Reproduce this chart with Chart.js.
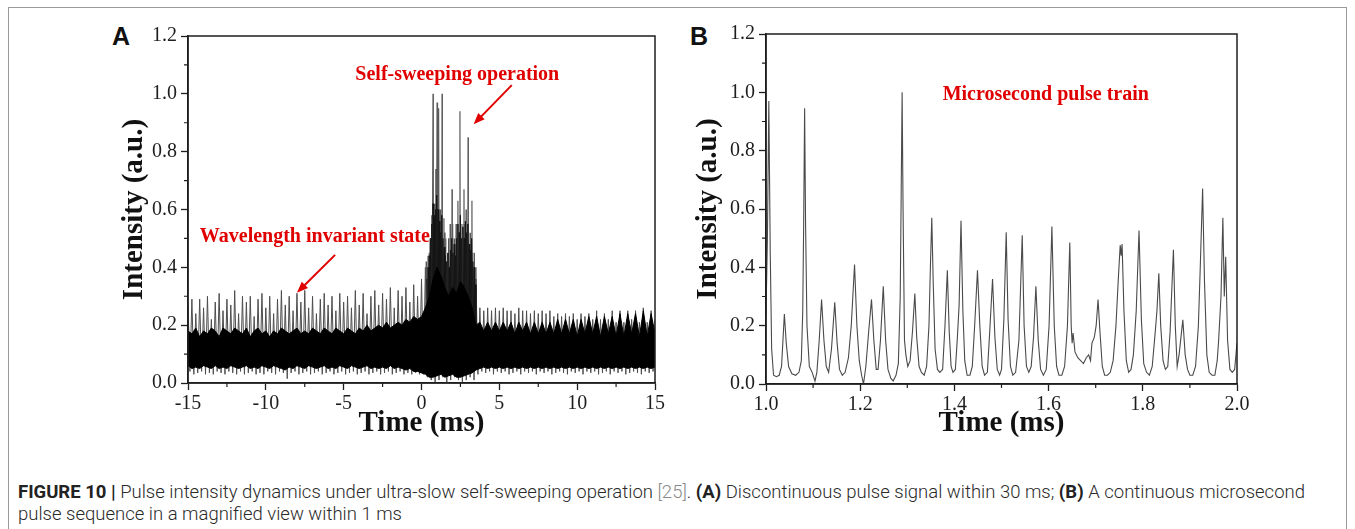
<!DOCTYPE html>
<html>
<head>
<meta charset="utf-8">
<script src="https://cdn.jsdelivr.net/npm/chart.js@4.4.0/dist/chart.umd.min.js"></script>
<style>
  html, body { margin: 0; padding: 0; background: #fff; }
  body { width: 1355px; height: 529px; position: relative; overflow: hidden; }
  .frame { position: absolute; left: 8px; top: 7px; width: 1337px; height: 560px; border: 1px solid #9a9a9a; }
  canvas { position: absolute; }
  #chartA { left: 100px; top: 20px; }
  #chartB { left: 680px; top: 18px; }
  .tag { position: absolute; top: 24px; font: bold 25px "Liberation Sans", Arial, sans-serif; line-height: 25px; color: #111; }
  .caption { position: absolute; left: 18px; top: 481px; font-family: Roboto, "Liberation Sans", sans-serif; font-weight: 300;
             font-size: 18.5px; line-height: 22px; color: #2a2a2a; white-space: nowrap; }
  .caption b { color: #222; font-weight: 700; }
  .caption .ref { color: #8a8a8a; }
</style>
</head>
<body>
<div class="frame"></div>
<div class="tag" style="left:112px">A</div>
<div class="tag" style="left:690px">B</div>
<canvas id="chartA" width="580" height="430"></canvas>
<canvas id="chartB" width="580" height="432"></canvas>
<div class="caption">
  <div><b>FIGURE 10</b> <b>|</b> Pulse intensity dynamics under ultra-slow self-sweeping operation <span class="ref">[25]</span>. <b>(A)</b> Discontinuous pulse signal within 30 ms; <b>(B)</b> A continuous microsecond</div>
  <div>pulse sequence in a magnified view within 1 ms</div>
</div>
<script>
// ---- panel A: 30 ms scope record, one sample every 0.25 ms from -15 ms ----
const aStart = -15;
const aStep = 0.25;
// grey spike tops
const aPeak = [
  0.27, 0.29, 0.24, 0.29, 0.26, 0.30, 0.22, 0.28, 0.31, 0.25,
  0.29, 0.27, 0.32, 0.24, 0.30, 0.28, 0.30, 0.23, 0.29, 0.31,
  0.26, 0.30, 0.24, 0.29, 0.32, 0.27, 0.30, 0.25, 0.31, 0.28,
  0.32, 0.26, 0.30, 0.24, 0.29, 0.31, 0.27, 0.30, 0.25, 0.31,
  0.28, 0.30, 0.26, 0.32, 0.27, 0.31, 0.24, 0.30, 0.32, 0.27,
  0.31, 0.29, 0.33, 0.26, 0.32, 0.30, 0.33, 0.28, 0.34, 0.30,
  0.36,
  0.40, 0.45, 0.55, 0.60, 0.58, 0.52, 0.50, 0.55, 0.52, 0.58, 0.55, 0.50, 0.45, 0.36,
  0.26, 0.25, 0.26, 0.25, 0.26, 0.25,
  0.26, 0.25, 0.25, 0.24, 0.26, 0.25,
  0.25, 0.24, 0.25, 0.24, 0.25, 0.24, 0.25, 0.23,
  0.24, 0.23, 0.24, 0.23, 0.24, 0.22, 0.24, 0.23,
  0.24, 0.22, 0.25, 0.22, 0.24, 0.22, 0.25, 0.21,
  0.25, 0.21, 0.25, 0.22, 0.25, 0.21, 0.26, 0.21, 0.25, 0.22
];
// grey fringe under the dense part
const aDip = [
  0.04, 0.03, 0.035, 0.04, 0.03, 0.035, 0.03, 0.04, 0.035, 0.03,
  0.04, 0.035, 0.03, 0.04, 0.03, 0.035, 0.04, 0.03, 0.035, 0.03,
  0.04, 0.035, 0.03, 0.04, 0.035, 0.015, 0.035, 0.04, 0.03, 0.035,
  0.04, 0.03, 0.035, 0.04, 0.03, 0.035, 0.04, 0.03, 0.035, 0.04,
  0.03, 0.035, 0.04, 0.03, 0.035, 0.04, 0.03, 0.035, 0.04, 0.03,
  0.035, 0.04, 0.03, 0.035, 0.04, 0.03, 0.035, 0.03, 0.035, 0.03,
  0.03,
  0.02, 0.01, 0.0, 0.01, 0.02, 0.0, 0.01, 0.02, 0.01, 0.0, 0.01, 0.02, 0.01, 0.03,
  0.04, 0.035, 0.04, 0.03, 0.04, 0.035,
  0.04, 0.03, 0.035, 0.04, 0.03, 0.04,
  0.035, 0.04, 0.03, 0.04, 0.035, 0.04, 0.03, 0.035,
  0.04, 0.035, 0.03, 0.04, 0.035, 0.04, 0.03, 0.04,
  0.035, 0.04, 0.03, 0.035, 0.04, 0.03, 0.04, 0.035,
  0.04, 0.03, 0.035, 0.04, 0.035, 0.03, 0.04, 0.035, 0.04, 0.03
];
// solid black band, upper and lower edge
const aBandHi = [
  0.18, 0.17, 0.19, 0.16, 0.18, 0.17, 0.19, 0.18, 0.16, 0.19,
  0.18, 0.17, 0.19, 0.18, 0.17, 0.19, 0.16, 0.18, 0.19, 0.17,
  0.18, 0.16, 0.18, 0.17, 0.19, 0.18, 0.17, 0.18, 0.19, 0.17,
  0.18, 0.17, 0.19, 0.18, 0.17, 0.19, 0.18, 0.17, 0.19, 0.18,
  0.17, 0.19, 0.18, 0.17, 0.19, 0.18, 0.20, 0.18, 0.19, 0.20,
  0.19, 0.21, 0.19, 0.20, 0.21, 0.20, 0.22, 0.21, 0.23, 0.22,
  0.23,
  0.26, 0.30, 0.36, 0.40, 0.37, 0.33, 0.30, 0.33, 0.31, 0.35, 0.33, 0.30, 0.26, 0.20,
  0.21, 0.18, 0.21, 0.18, 0.21, 0.18,
  0.21, 0.18, 0.21, 0.17, 0.21, 0.18,
  0.21, 0.17, 0.21, 0.17, 0.21, 0.17, 0.21, 0.17,
  0.22, 0.17, 0.22, 0.17, 0.22, 0.16, 0.22, 0.17,
  0.23, 0.17, 0.23, 0.16, 0.23, 0.17, 0.23, 0.16,
  0.24, 0.16, 0.24, 0.17, 0.24, 0.16, 0.25, 0.16, 0.24, 0.17
];
const aBandLo = [
  0.06, 0.05, 0.055, 0.05, 0.06, 0.055, 0.05, 0.06, 0.05, 0.055,
  0.05, 0.06, 0.055, 0.05, 0.055, 0.06, 0.05, 0.055, 0.05, 0.06,
  0.055, 0.05, 0.06, 0.055, 0.05, 0.045, 0.055, 0.05, 0.06, 0.055,
  0.05, 0.06, 0.055, 0.05, 0.055, 0.06, 0.05, 0.055, 0.05, 0.06,
  0.055, 0.05, 0.06, 0.055, 0.05, 0.055, 0.06, 0.05, 0.055, 0.05,
  0.055, 0.05, 0.06, 0.05, 0.055, 0.05, 0.045, 0.05, 0.04, 0.04,
  0.035,
  0.03, 0.02, 0.02, 0.025, 0.03, 0.02, 0.025, 0.03, 0.02, 0.02, 0.025, 0.03, 0.035, 0.045,
  0.05, 0.055, 0.05, 0.055, 0.05, 0.055,
  0.05, 0.055, 0.05, 0.055, 0.05, 0.055,
  0.05, 0.055, 0.05, 0.055, 0.05, 0.055, 0.05, 0.055,
  0.05, 0.055, 0.05, 0.055, 0.05, 0.055, 0.05, 0.055,
  0.05, 0.055, 0.05, 0.055, 0.05, 0.055, 0.05, 0.055,
  0.05, 0.055, 0.05, 0.055, 0.05, 0.055, 0.05, 0.055, 0.05, 0.055
];
// dark spikes packed inside the burst, every 0.08 ms from 0.34 ms
const midStart = 0.34;
const midStep = 0.08;
const midPeak = [
  0.36, 0.40, 0.44, 0.50, 0.55, 0.62, 0.58, 0.60, 0.65, 0.60,
  0.56, 0.52, 0.58, 0.50, 0.47, 0.44, 0.42, 0.45, 0.40, 0.46,
  0.50, 0.45, 0.48, 0.44, 0.50, 0.55, 0.52, 0.58, 0.50, 0.54,
  0.50, 0.56, 0.52, 0.55, 0.48, 0.46, 0.50, 0.42, 0.40, 0.34
];
const midFoot = 0.2;
// tall spikes of the self-sweeping burst (ms, a.u.)
const burstTime = [0.30, 0.42, 0.55, 0.66, 0.74, 0.85, 0.93, 1.00, 1.06, 1.12,
                   1.20, 1.32, 1.44, 1.55, 1.68, 1.84, 1.96, 2.10, 2.22, 2.34,
                   2.47, 2.60, 2.73, 2.86, 2.99, 3.12, 3.24, 3.38, 3.50];
const burstPeak = [0.42, 0.44, 0.50, 0.58, 1.00, 0.62, 0.74, 0.97, 0.80, 0.95,
                   0.60, 1.00, 0.57, 0.50, 0.45, 0.55, 0.67, 0.50, 0.55, 0.63,
                   0.94, 0.55, 0.67, 0.60, 0.85, 0.52, 0.63, 0.45, 0.40];
const burstFoot = 0.12;

// ---- panel B: 1 ms zoom of the pulse train ----
const bTime = [
  1.000, 1.003, 1.006, 1.009, 1.012, 1.016, 1.022, 1.028,
  1.033, 1.036, 1.039, 1.043, 1.048, 1.055, 1.063, 1.070,
  1.075, 1.078, 1.080, 1.082, 1.084, 1.087, 1.092, 1.098, 1.104,
  1.108, 1.113, 1.118, 1.123, 1.128, 1.133, 1.139, 1.146, 1.151, 1.156, 1.162, 1.168,
  1.175, 1.181, 1.188, 1.193, 1.198, 1.203, 1.207,
  1.212, 1.218, 1.224, 1.229, 1.234, 1.238, 1.243, 1.249, 1.254, 1.259, 1.265, 1.270, 1.276,
  1.281, 1.285, 1.287, 1.289, 1.291, 1.294, 1.297, 1.301, 1.306, 1.311, 1.316, 1.320, 1.325, 1.330, 1.336,
  1.341, 1.346, 1.349, 1.352, 1.355, 1.359, 1.364, 1.369, 1.375, 1.380, 1.385, 1.389, 1.393, 1.397,
  1.402, 1.406, 1.410, 1.414, 1.418, 1.422, 1.427, 1.433, 1.438, 1.443, 1.449, 1.454, 1.459, 1.464,
  1.470, 1.475, 1.481, 1.486, 1.491, 1.496, 1.500, 1.505, 1.510, 1.514, 1.519, 1.524, 1.530,
  1.537, 1.544, 1.548, 1.553, 1.558, 1.563, 1.568, 1.573, 1.578, 1.583, 1.589,
  1.595, 1.601, 1.607, 1.612, 1.617, 1.622, 1.628, 1.634, 1.640, 1.645,
  1.648, 1.650, 1.652, 1.656, 1.662, 1.668, 1.674, 1.680, 1.685, 1.689,
  1.692, 1.697, 1.701, 1.705, 1.709, 1.714, 1.719, 1.725, 1.731, 1.737,
  1.743, 1.748, 1.752, 1.754, 1.756, 1.760, 1.765, 1.770,
  1.775, 1.780, 1.786, 1.792, 1.797, 1.802, 1.808, 1.814, 1.820, 1.826,
  1.830, 1.834, 1.838, 1.843, 1.848,
  1.853, 1.858, 1.865, 1.869, 1.873, 1.877, 1.881, 1.885, 1.890, 1.895, 1.900, 1.906,
  1.912, 1.918, 1.922, 1.927, 1.931, 1.936, 1.941, 1.947, 1.953, 1.958,
  1.961, 1.966, 1.970, 1.973, 1.976, 1.980, 1.985, 1.990, 1.995, 2.000
];
const bValue = [
  0.24, 0.50, 0.97, 0.45, 0.12, 0.03, 0.025, 0.03,
  0.06, 0.15, 0.24, 0.14, 0.06, 0.035, 0.03, 0.04,
  0.08, 0.25, 0.55, 0.945, 0.55, 0.20, 0.06, 0.04, 0.01,
  0.04, 0.15, 0.29, 0.15, 0.06, 0.04, 0.12, 0.28, 0.14, 0.05, 0.03, 0.04,
  0.09, 0.20, 0.41, 0.20, 0.08, 0.03, 0.0,
  0.06, 0.18, 0.29, 0.15, 0.05, 0.05, 0.15, 0.335, 0.15, 0.05, 0.02, 0.01, 0.03,
  0.07, 0.30, 0.65, 1.00, 0.60, 0.15, 0.10, 0.06, 0.08, 0.18, 0.31, 0.16, 0.06, 0.04, 0.03,
  0.06, 0.20, 0.40, 0.57, 0.35, 0.12, 0.05, 0.04, 0.05, 0.20, 0.39, 0.18, 0.06, 0.04,
  0.05, 0.15, 0.27, 0.56, 0.25, 0.08, 0.03, 0.03, 0.06, 0.20, 0.39, 0.20, 0.06, 0.03,
  0.04, 0.18, 0.36, 0.16, 0.05, 0.03, 0.05, 0.22, 0.52, 0.22, 0.06, 0.03, 0.04,
  0.15, 0.51, 0.20, 0.06, 0.04, 0.06, 0.16, 0.335, 0.15, 0.05, 0.03,
  0.05, 0.20, 0.54, 0.20, 0.06, 0.03, 0.03, 0.06, 0.20, 0.485,
  0.20, 0.14, 0.175, 0.11, 0.09, 0.08, 0.07, 0.09, 0.10, 0.08,
  0.14, 0.16, 0.20, 0.29, 0.18, 0.06, 0.03, 0.03, 0.04, 0.08,
  0.20, 0.36, 0.476, 0.44, 0.48, 0.25, 0.08, 0.04,
  0.05, 0.10, 0.25, 0.526, 0.22, 0.07, 0.04, 0.03, 0.06, 0.17,
  0.25, 0.38, 0.20, 0.08, 0.05,
  0.06, 0.18, 0.46, 0.20, 0.06, 0.10, 0.16, 0.22, 0.10, 0.05, 0.03, 0.03,
  0.06, 0.20, 0.40, 0.67, 0.35, 0.10, 0.04, 0.03, 0.03, 0.08,
  0.15, 0.30, 0.57, 0.30, 0.436, 0.15, 0.05, 0.04, 0.05, 0.14
];

// red notes, placed in data units
const aNotes = [
  { text: 'Self-sweeping operation', x: 2.3, y: 1.065 },
  { text: 'Wavelength invariant state', x: -6.85, y: 0.505 }
];
const aArrows = [
  { x0: 5.8, y0: 1.03, x1: 3.35, y1: 0.895 },
  { x0: -5.55, y0: 0.443, x1: -8.0, y1: 0.312 }
];
const bNotes = [{ text: 'Microsecond pulse train', x: 1.594, y: 0.99 }];

const serif = '"Liberation Serif", "Times New Roman", serif';
const red = '#e00000';
const ink = '#1e1e1e';

function bandPoints(vals) {
  return vals.map((v, i) => ({ x: aStart + i * aStep, y: v }));
}

// zigzag: top at each sample time, foot half a step later
function zigzag(start, step, tops, feet) {
  const pts = [];
  tops.forEach((p, i) => {
    const t = start + i * step;
    pts.push({ x: t, y: p });
    pts.push({ x: t + step / 2, y: Array.isArray(feet) ? feet[i] : feet });
  });
  return pts;
}

function burstPoints() {
  const pts = [];
  burstTime.forEach((t, i) => {
    pts.push({ x: t - 0.02, y: burstFoot });
    pts.push({ x: t, y: burstPeak[i] });
    pts.push({ x: t + 0.02, y: burstFoot });
  });
  return pts;
}

function isMinor(tick) {
  return tick.label === '' || tick.label === undefined;
}

// frame on four sides, short minor ticks, red notes and arrows
const decorPlugin = {
  id: 'decor',
  afterDraw(chart, args, opts) {
    const { ctx, chartArea: a } = chart;
    const xs = chart.scales.x;
    const ys = chart.scales.y;
    ctx.save();
    ctx.strokeStyle = ink;
    ctx.lineWidth = 1.5;
    ctx.strokeRect(a.left, a.top, a.right - a.left, a.bottom - a.top);

    ctx.lineWidth = 1.2;
    ctx.beginPath();
    xs.ticks.forEach((t) => {
      if (!isMinor(t)) return;
      const px = xs.getPixelForValue(t.value);
      ctx.moveTo(px, a.bottom);
      ctx.lineTo(px, a.bottom + 4);
    });
    ys.ticks.forEach((t) => {
      if (!isMinor(t)) return;
      const py = ys.getPixelForValue(t.value);
      ctx.moveTo(a.left, py);
      ctx.lineTo(a.left - 4, py);
    });
    ctx.stroke();

    ctx.fillStyle = red;
    ctx.strokeStyle = red;
    ctx.font = 'bold 20px ' + serif;
    ctx.textAlign = 'center';
    ctx.textBaseline = 'middle';
    (opts.notes || []).forEach((n) => {
      ctx.fillText(n.text, xs.getPixelForValue(n.x), ys.getPixelForValue(n.y));
    });
    (opts.arrows || []).forEach((r) => {
      const x0 = xs.getPixelForValue(r.x0);
      const y0 = ys.getPixelForValue(r.y0);
      const x1 = xs.getPixelForValue(r.x1);
      const y1 = ys.getPixelForValue(r.y1);
      const ang = Math.atan2(y1 - y0, x1 - x0);
      const head = 12;
      ctx.lineWidth = 2;
      ctx.beginPath();
      ctx.moveTo(x0, y0);
      ctx.lineTo(x1 - Math.cos(ang) * head * 0.8, y1 - Math.sin(ang) * head * 0.8);
      ctx.stroke();
      ctx.beginPath();
      ctx.moveTo(x1, y1);
      ctx.lineTo(x1 - head * Math.cos(ang - 0.38), y1 - head * Math.sin(ang - 0.38));
      ctx.lineTo(x1 - head * Math.cos(ang + 0.38), y1 - head * Math.sin(ang + 0.38));
      ctx.closePath();
      ctx.fill();
    });
    ctx.restore();
  }
};

function tickColor(c) {
  return isMinor(c.tick) ? 'rgba(0,0,0,0)' : ink;
}

function buildScales(opt) {
  return {
    x: {
      type: 'linear',
      min: opt.xMin,
      max: opt.xMax,
      afterFit(scale) { scale.height = opt.xHeight; },
      ticks: {
        stepSize: opt.xStep,
        autoSkip: false,
        maxRotation: 0,
        padding: 2,
        color: ink,
        font: { family: serif, size: 20 },
        callback: opt.xLabel
      },
      grid: { drawOnChartArea: false, drawTicks: true, tickLength: 7, tickColor: tickColor, tickWidth: 1.3 },
      border: { display: true, color: ink, width: 1.5 },
      title: {
        display: true,
        text: 'Time (ms)',
        color: '#111',
        font: { family: serif, size: 29, weight: 'bold' },
        padding: { top: 0, bottom: 9 }
      }
    },
    y: {
      type: 'linear',
      min: 0,
      max: 1.2,
      afterFit(scale) { scale.width = opt.yWidth; },
      ticks: {
        stepSize: 0.1,
        autoSkip: false,
        padding: 4,
        color: ink,
        font: { family: serif, size: 20 },
        callback: (v) => (Math.round(v * 10) % 2 === 0 ? v.toFixed(1) : '')
      },
      grid: { drawOnChartArea: false, drawTicks: true, tickLength: 7, tickColor: tickColor, tickWidth: 1.3 },
      border: { display: true, color: ink, width: 1.5 },
      title: {
        display: true,
        text: 'Intensity (a.u.)',
        color: '#111',
        font: { family: serif, size: 29, weight: 'bold' },
        padding: { top: opt.yTitlePad, bottom: 0 }
      }
    }
  };
}

const lineDefaults = { pointRadius: 0, tension: 0, fill: false };

new Chart(document.getElementById('chartA'), {
  type: 'line',
  data: {
    datasets: [
      Object.assign({}, lineDefaults, {
        data: bandPoints(aBandLo), borderColor: '#000', borderWidth: 1, order: 1
      }),
      Object.assign({}, lineDefaults, {
        data: bandPoints(aBandHi), borderColor: '#000', borderWidth: 1,
        fill: '-1', backgroundColor: '#000', order: 1
      }),
      Object.assign({}, lineDefaults, {
        data: zigzag(aStart, aStep, aPeak, aDip), borderColor: '#4d4d4d', borderWidth: 1, order: 4
      }),
      Object.assign({}, lineDefaults, {
        data: burstPoints(), borderColor: '#5a5a5a', borderWidth: 1.2, order: 3
      }),
      Object.assign({}, lineDefaults, {
        data: zigzag(midStart, midStep, midPeak, midFoot), borderColor: '#151515', borderWidth: 1, order: 2
      })
    ]
  },
  options: {
    responsive: false,
    animation: false,
    devicePixelRatio: 1,
    events: [],
    layout: { padding: { left: 0, top: 16, right: 25, bottom: 0 } },
    plugins: {
      legend: { display: false },
      tooltip: { enabled: false },
      decor: { notes: aNotes, arrows: aArrows }
    },
    scales: buildScales({
      xMin: -15, xMax: 15, xStep: 2.5, xHeight: 67, yWidth: 88, yTitlePad: 17,
      xLabel: (v) => (Math.abs(v % 5) < 1e-9 ? String(Math.round(v)) : '')
    })
  },
  plugins: [decorPlugin]
});

new Chart(document.getElementById('chartB'), {
  type: 'line',
  data: {
    datasets: [
      Object.assign({}, lineDefaults, {
        data: bTime.map((t, i) => ({ x: t, y: bValue[i] })),
        borderColor: '#4a4a4a', borderWidth: 1.1
      })
    ]
  },
  options: {
    responsive: false,
    animation: false,
    devicePixelRatio: 1,
    events: [],
    layout: { padding: { left: 0, top: 16, right: 23, bottom: 0 } },
    plugins: {
      legend: { display: false },
      tooltip: { enabled: false },
      decor: { notes: bNotes, arrows: [] }
    },
    scales: buildScales({
      xMin: 1.0, xMax: 2.0, xStep: 0.1, xHeight: 66, yWidth: 86, yTitlePad: 11,
      xLabel: (v) => (Math.round(v * 10) % 2 === 0 ? v.toFixed(1) : '')
    })
  },
  plugins: [decorPlugin]
});
</script>
</body>
</html>
